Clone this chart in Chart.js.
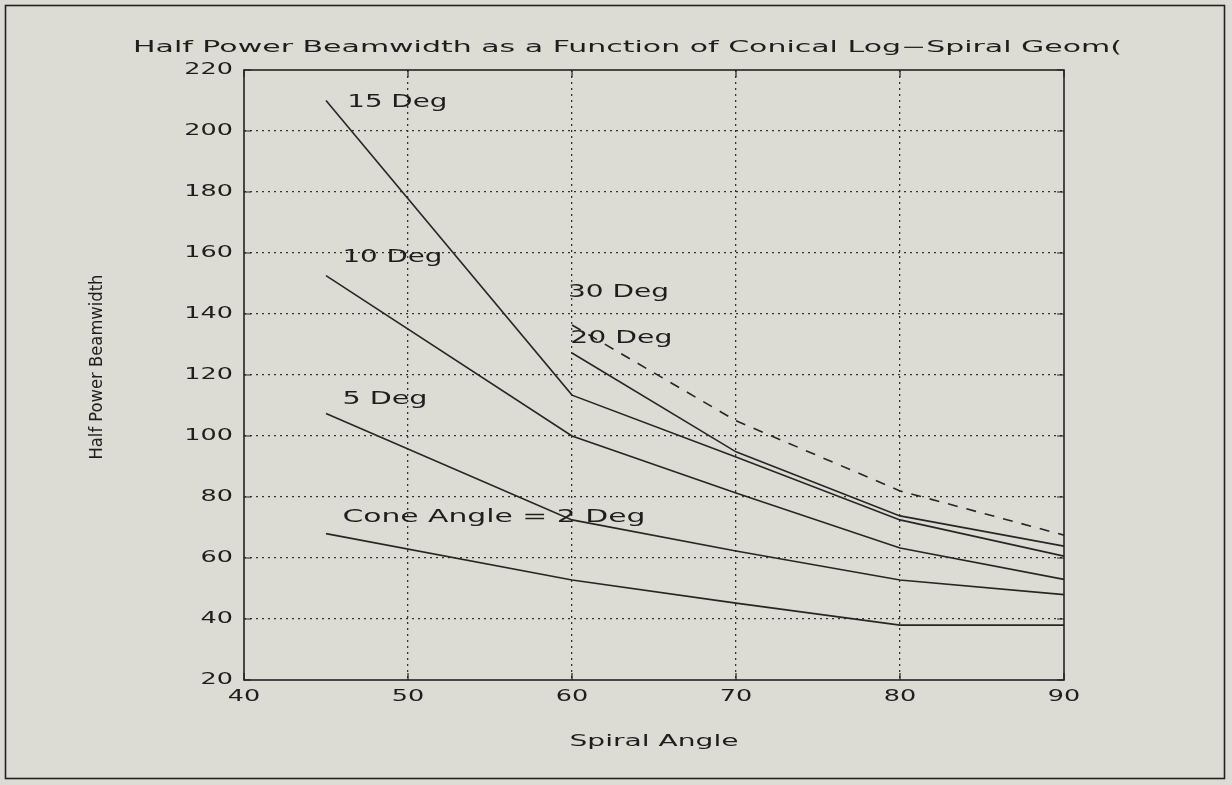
<!DOCTYPE html>
<html><head><meta charset="utf-8">
<script src="https://cdn.jsdelivr.net/npm/chart.js@4.4.1/dist/chart.umd.min.js"></script>
<style>html,body{margin:0;padding:0;background:#dcdcd5;}#wrap{width:1232px;height:785px;}</style>
</head><body><div id="wrap"><canvas id="c" width="1232" height="785"></canvas></div>
<script>
// ---- data ----
const spiralAngles = [45, 60, 70, 80, 90];
const cone2  = [68, 52.8, 45.2, 38, 38];
const cone5  = [107.4, 72.5, 62.3, 52.8, 48];
const cone10 = [152.6, 100, 81.3, 63.3, 53];
const cone15 = [210, 113.4, 93.1, 72.5, 60.6];
const cone20 = [null, 127.2, 94.8, 73.8, 63.9];
const cone30 = [null, 136.4, 105, 82, 67.5];
const seriesNames = ['Cone Angle = 2 Deg', '5 Deg', '10 Deg', '15 Deg', '20 Deg', '30 Deg'];
const xTickValues = [40, 50, 60, 70, 80, 90];
const yTickValues = [20, 40, 60, 80, 100, 120, 140, 160, 180, 200, 220];
const titleText = 'Half Power Beamwidth as a Function of Conical Log\u2212Spiral Geom(';
const xTitleText = 'Spiral Angle';
const yTitleText = 'Half Power Beamwidth';

// ---- styling / layout (not data) ----
const BG = '#dcdcd5';
const INK = '#1e1e1e';
const FONT = '"DejaVu Sans", sans-serif';
const labelPlacement = [
  {x: 46.0, y: 73.1, w: 303},
  {x: 46.0, y: 111.8, w: 85},
  {x: 46.0, y: 158.4, w: 100},
  {x: 46.3, y: 209.2, w: 100},
  {x: 59.9, y: 132.1, w: 102},
  {x: 59.76, y: 146.9, w: 101}
];

function pts(vals) {
  return spiralAngles.map((x, i) => vals[i] == null ? null : {x: x, y: vals[i]}).filter(p => p);
}

function stretchText(ctx, text, x, y, o) {
  const size = o.size || 15, family = o.family || FONT, align = o.align || 'left';
  ctx.save();
  ctx.font = `normal ${size}px ${family}`;
  const w0 = ctx.measureText(text).width;
  const s = o.width ? o.width / w0 : (o.sx || 1.7);
  const w = w0 * s;
  const left = align === 'left' ? x : (align === 'center' ? x - w / 2 : x - w);
  ctx.translate(left, y);
  ctx.scale(s, 1);
  ctx.textBaseline = 'middle';
  ctx.textAlign = 'left';
  ctx.fillStyle = o.color || INK;
  ctx.fillText(text, 0, 0);
  ctx.restore();
}

const decor = {
  id: 'decor',
  beforeDraw(chart) {
    const ctx = chart.ctx;
    ctx.save();
    ctx.fillStyle = BG;
    ctx.fillRect(0, 0, chart.width, chart.height);
    ctx.restore();
  },
  afterDraw(chart) {
    const ctx = chart.ctx;
    const a = chart.chartArea;
    const xs = chart.scales.x, ys = chart.scales.y;
    ctx.save();
    // outer frame
    ctx.strokeStyle = '#222';
    ctx.lineWidth = 1.6;
    ctx.strokeRect(5.5, 5.5, 1219, 773);
    // plot frame
    ctx.lineWidth = 1.6;
    ctx.strokeRect(a.left, a.top, a.right - a.left, a.bottom - a.top);
    // inward tick marks
    ctx.lineWidth = 1.2;
    ctx.beginPath();
    xs.ticks.forEach(t => {
      const px = xs.getPixelForValue(t.value);
      ctx.moveTo(px, a.bottom); ctx.lineTo(px, a.bottom - 7);
      ctx.moveTo(px, a.top); ctx.lineTo(px, a.top + 7);
    });
    ys.ticks.forEach(t => {
      const py = ys.getPixelForValue(t.value);
      ctx.moveTo(a.left, py); ctx.lineTo(a.left + 7, py);
      ctx.moveTo(a.right, py); ctx.lineTo(a.right - 7, py);
    });
    ctx.stroke();
    ctx.restore();
    // tick labels
    ys.ticks.forEach(t => {
      stretchText(ctx, String(t.value), a.left - 11, ys.getPixelForValue(t.value), {size: 15, sx: 1.7, align: 'right'});
    });
    xs.ticks.forEach(t => {
      stretchText(ctx, String(t.value), xs.getPixelForValue(t.value), a.bottom + 17, {size: 15, sx: 1.7, align: 'center'});
    });
    // titles
    stretchText(ctx, titleText, 133, 48, {size: 15, width: 989});
    stretchText(ctx, xTitleText, (a.left + a.right) / 2, 742, {size: 16, width: 169, align: 'center'});
    ctx.save();
    ctx.translate(98, 367);
    ctx.rotate(-Math.PI / 2);
    stretchText(ctx, yTitleText, 0, 0, {size: 17, family: '"DejaVu Sans Condensed", "DejaVu Sans", sans-serif', width: 185, align: 'center'});
    ctx.restore();
    // series labels
    seriesNames.forEach((name, i) => {
      const p = labelPlacement[i];
      stretchText(ctx, name, xs.getPixelForValue(p.x), ys.getPixelForValue(p.y), {size: 17, width: p.w});
    });
  }
};

const gridColor = (c) => {
  const sc = c.scale;
  if (c.tick && (c.tick.value === sc.min || c.tick.value === sc.max)) return 'rgba(0,0,0,0)';
  return '#333';
};

const lineStyle = {borderColor: '#262626', borderWidth: 1.6, pointRadius: 0, fill: false, tension: 0};

new Chart(document.getElementById('c'), {
  type: 'line',
  data: {
    datasets: [
      Object.assign({label: seriesNames[0], data: pts(cone2)}, lineStyle),
      Object.assign({label: seriesNames[1], data: pts(cone5)}, lineStyle),
      Object.assign({label: seriesNames[2], data: pts(cone10)}, lineStyle),
      Object.assign({label: seriesNames[3], data: pts(cone15)}, lineStyle),
      Object.assign({label: seriesNames[4], data: pts(cone20)}, lineStyle),
      Object.assign({label: seriesNames[5], data: pts(cone30), borderDash: [10, 9]}, lineStyle)
    ]
  },
  options: {
    responsive: false,
    animation: false,
    devicePixelRatio: 1,
    layout: {padding: {left: 0, top: 70, right: 168, bottom: 0}},
    plugins: {legend: {display: false}, tooltip: {enabled: false}, title: {display: false}},
    scales: {
      x: {
        type: 'linear', min: xTickValues[0], max: xTickValues[xTickValues.length - 1],
        afterBuildTicks: (s) => { s.ticks = xTickValues.map(v => ({value: v})); },
        afterFit: (s) => { s.height = 105; },
        ticks: {display: false},
        grid: {color: gridColor, lineWidth: 1.3, drawTicks: false},
        border: {display: false, dash: [2, 4]}
      },
      y: {
        type: 'linear', min: yTickValues[0], max: yTickValues[yTickValues.length - 1],
        afterBuildTicks: (s) => { s.ticks = yTickValues.map(v => ({value: v})); },
        afterFit: (s) => { s.width = 244; },
        ticks: {display: false},
        grid: {color: gridColor, lineWidth: 1.3, drawTicks: false},
        border: {display: false, dash: [2, 4]}
      }
    }
  },
  plugins: [decor]
});
</script>
</body></html>
